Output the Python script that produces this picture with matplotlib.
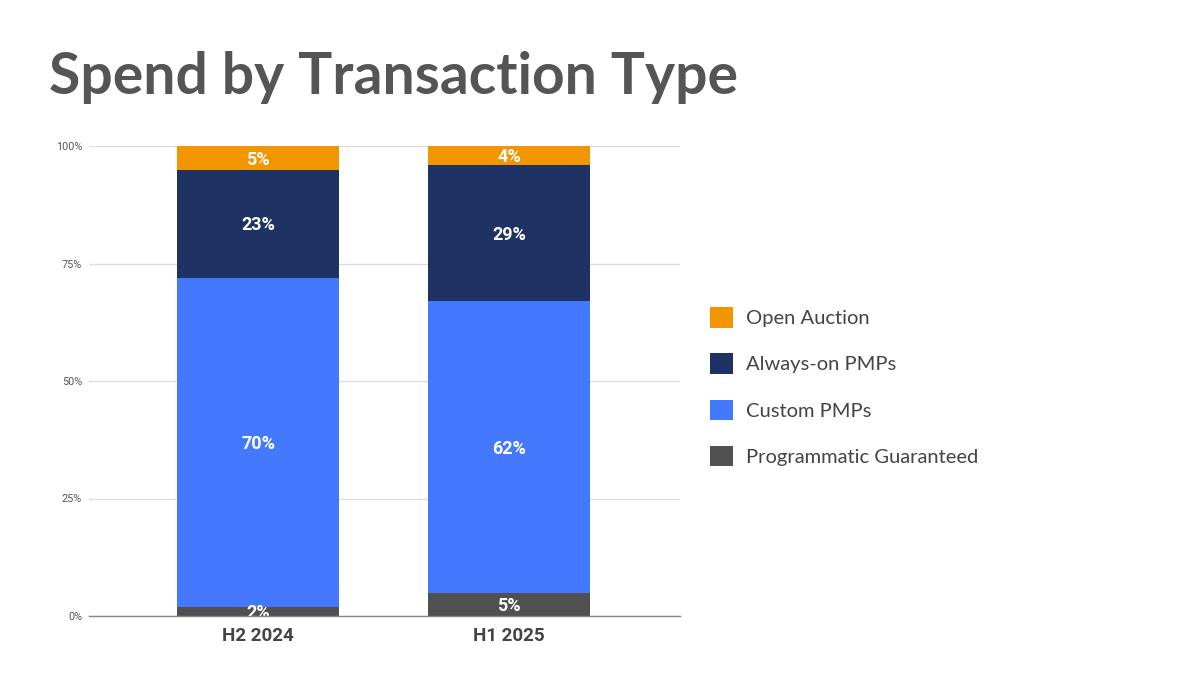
import matplotlib
matplotlib.use("Agg")
import matplotlib.pyplot as plt
import numpy as np
from matplotlib.patches import Patch
from matplotlib.ticker import FixedLocator

categories = ["H2 2024", "H1 2025"]
series_names = ["Programmatic Guaranteed", "Custom PMPs", "Always-on PMPs", "Open Auction"]
pg = [2, 5]
custom = [70, 62]
always_on = [23, 29]
open_auction = [5, 4]
yticks = [0, 25, 50, 75, 100]
ytick_labels = ["0%", "25%", "50%", "75%", "100%"]

colors = {
    "Programmatic Guaranteed": "#505050",
    "Custom PMPs": "#4479FF",
    "Always-on PMPs": "#1E3264",
    "Open Auction": "#F29500",
}

fig = plt.figure(figsize=(12, 6.75), dpi=100)
ax = fig.add_axes([89/1200, 1 - 616/675, (680-89)/1200, (616-146)/675])

x = np.arange(len(categories))
width = 0.645
bottom = np.zeros(len(categories))
for name, vals in zip(series_names, [pg, custom, always_on, open_auction]):
    vals = np.array(vals, dtype=float)
    ax.bar(x, vals, width, bottom=bottom, color=colors[name], zorder=3)
    for xi, b, v in zip(x, bottom, vals):
        ax.text(xi, b + v / 2 - 0.4, f"{int(v)}%", ha="center", va="center",
                color="white", fontsize=13, fontweight="bold", family="Roboto", zorder=4)
    bottom += vals

ax.set_xlim(-0.673, 1.68)
ax.set_ylim(0, 100)
ax.yaxis.set_major_locator(FixedLocator(yticks))
ax.set_yticklabels(ytick_labels, family="Roboto", fontsize=7.8, color="#555555")
ax.set_xticks(x)
ax.set_xticklabels(categories, family="Roboto", fontsize=13.5, fontweight="bold", color="#444444")
ax.tick_params(axis="both", length=0)
ax.tick_params(axis="y", pad=5)
ax.tick_params(axis="x", pad=8)
ax.grid(axis="y", color="#dddddd", linewidth=1, zorder=0)
for s in ["top", "right", "left"]:
    ax.spines[s].set_visible(False)
ax.spines["bottom"].set_color("#888888")
ax.spines["bottom"].set_linewidth(1)
ax.spines["bottom"].set_zorder(5)

fig.text(49/1200, 1 - 78/675, "Spend by Transaction Type", family="Lato", fontweight="bold",
         fontsize=41, color="#555555", ha="left", va="center")

handles = [Patch(facecolor=colors[n], edgecolor="none") for n in reversed(series_names)]
labels = list(reversed(series_names))
leg = fig.legend(handles, labels, loc="upper left", bbox_to_anchor=(700/1200, 1 - 297/675),
                 frameon=False, prop={"family": "Lato", "size": 14.5}, labelcolor="#444444",
                 handlelength=1.15, handleheight=1.2, handletextpad=0.65, labelspacing=1.27,
                 borderaxespad=0, borderpad=0.5)

fig.savefig("out.png", dpi=100)
